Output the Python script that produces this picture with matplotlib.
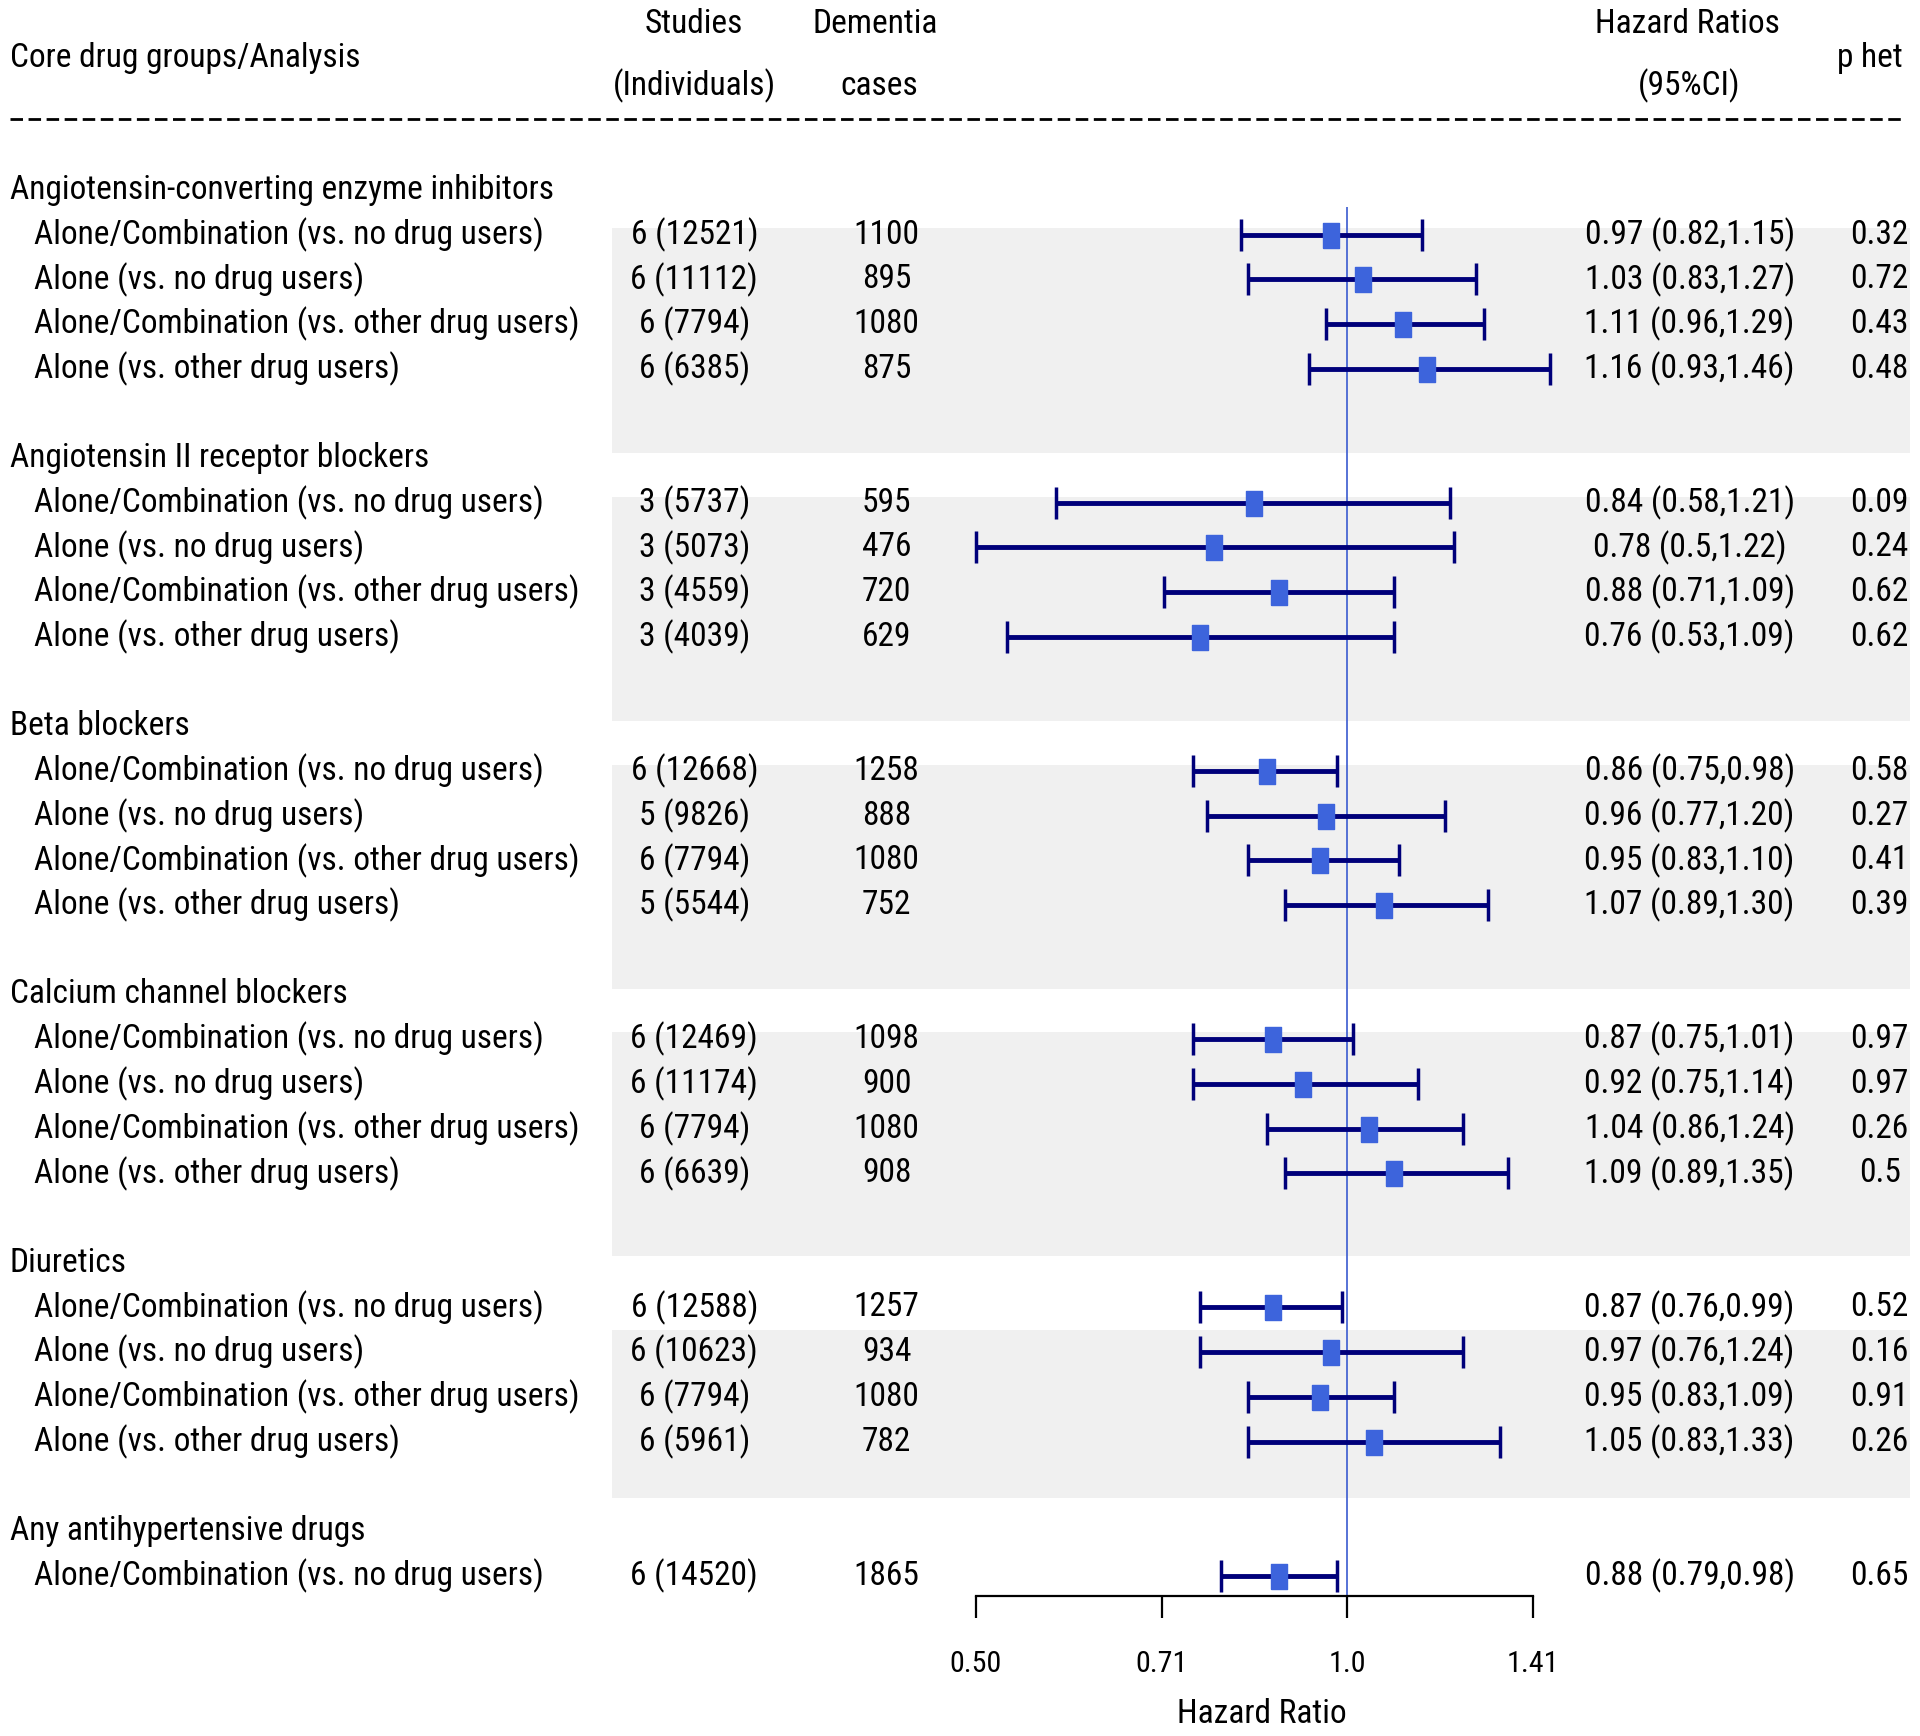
import matplotlib
matplotlib.use("Agg")
import matplotlib.pyplot as plt
import matplotlib.font_manager as fm
import numpy as np

groups = [
    "Angiotensin-converting enzyme inhibitors",
    "Angiotensin II receptor blockers",
    "Beta blockers",
    "Calcium channel blockers",
    "Diuretics",
    "Any antihypertensive drugs",
]
analyses = [
    "Alone/Combination (vs. no drug users)",
    "Alone (vs. no drug users)",
    "Alone/Combination (vs. other drug users)",
    "Alone (vs. other drug users)",
]
n_analyses = [4, 4, 4, 4, 4, 1]

studies = [
    "6 (12521)", "6 (11112)", "6 (7794)", "6 (6385)",
    "3 (5737)", "3 (5073)", "3 (4559)", "3 (4039)",
    "6 (12668)", "5 (9826)", "6 (7794)", "5 (5544)",
    "6 (12469)", "6 (11174)", "6 (7794)", "6 (6639)",
    "6 (12588)", "6 (10623)", "6 (7794)", "6 (5961)",
    "6 (14520)",
]
cases = [
    "1100", "895", "1080", "875",
    "595", "476", "720", "629",
    "1258", "888", "1080", "752",
    "1098", "900", "1080", "908",
    "1257", "934", "1080", "782",
    "1865",
]
hr = ["0.97", "1.03", "1.11", "1.16",
      "0.84", "0.78", "0.88", "0.76",
      "0.86", "0.96", "0.95", "1.07",
      "0.87", "0.92", "1.04", "1.09",
      "0.87", "0.97", "0.95", "1.05",
      "0.88"]
lo = ["0.82", "0.83", "0.96", "0.93",
      "0.58", "0.5", "0.71", "0.53",
      "0.75", "0.77", "0.83", "0.89",
      "0.75", "0.75", "0.86", "0.89",
      "0.76", "0.76", "0.83", "0.83",
      "0.79"]
hi = ["1.15", "1.27", "1.29", "1.46",
      "1.21", "1.22", "1.09", "1.09",
      "0.98", "1.20", "1.10", "1.30",
      "1.01", "1.14", "1.24", "1.35",
      "0.99", "1.24", "1.09", "1.33",
      "0.98"]
p_het = ["0.32", "0.72", "0.43", "0.48",
         "0.09", "0.24", "0.62", "0.62",
         "0.58", "0.27", "0.41", "0.39",
         "0.97", "0.97", "0.26", "0.5",
         "0.52", "0.16", "0.91", "0.26",
         "0.65"]

tick_vals = [0.5, 2 ** -0.5, 1.0, 2 ** 0.5]
tick_labels = ["0.50", "0.71", "1.0", "1.41"]

# shaded bands (row units, top -> bottom)
bands = [(0.86, 5.88), (6.86, 11.88), (12.86, 17.87), (18.84, 23.86), (25.5, 29.27)]


def pick_font():
    # the original uses a narrow Arial-like face; take a narrow one if there is one
    fonts = fm.fontManager.ttflist
    for want in ["Liberation Sans Narrow", "Arial Narrow", "Roboto Condensed",
                 "Open Sans Condensed", "Noto Sans Condensed"]:
        for f in fonts:
            if f.name == want and f.style == "normal" and f.weight in (400, "normal", "regular"):
                return f.name, f.stretch
    for f in fonts:
        path = f.fname.lower()
        if ("condensed" in path or "narrow" in path) and "sans" in path \
                and not any(s in path for s in ["mono", "serif", "bold", "italic", "oblique",
                                                 "extra", "ultra", "light", "thin", "black",
                                                 "medium", "semibold"]):
            return f.name, f.stretch
    return "Liberation Sans", "normal"


fam, stretch = pick_font()
plt.rcParams["font.family"] = [fam, "DejaVu Sans"]
plt.rcParams["font.stretch"] = stretch

navy = "#00007a"
box = "#3d64dc"

fig = plt.figure(figsize=(19.2, 17.36), dpi=100)

# size the text so the widest label matches the original width (~544 px)
renderer = fig.canvas.get_renderer()
probe = fig.text(0, 0, "Alone/Combination (vs. other drug users)", fontsize=20)
w = probe.get_window_extent(renderer).width
probe.remove()
FS = min(25.5, 20 * 544 / w)

ax = fig.add_axes([0, 0.0808, 1, 0.9192])
ax.set_xscale("log", base=2)
ax.set_xlim(2 ** -3.627, 2 ** 1.541)
ax.set_ylim(31.45, -4.247)

for top, bot in bands:
    ax.axhspan(top, bot, xmin=0.319, xmax=0.995, color="#f0f0f0", lw=0, zorder=0)

tr = ax.get_yaxis_transform()

# header
ax.text(0.0052, -2.96, "Core drug groups/Analysis", transform=tr, fontsize=FS, va="center")
ax.text(0.3616, -3.70, "Studies", transform=tr, fontsize=FS, va="center", ha="center")
ax.text(0.3616, -2.33, "(Individuals)", transform=tr, fontsize=FS, va="center", ha="center")
ax.text(0.456, -3.70, "Dementia", transform=tr, fontsize=FS, va="center", ha="center")
ax.text(0.458, -2.33, "cases", transform=tr, fontsize=FS, va="center", ha="center")
ax.text(0.879, -3.70, "Hazard Ratios", transform=tr, fontsize=FS, va="center", ha="center")
ax.text(0.880, -2.33, "(95%CI)", transform=tr, fontsize=FS, va="center", ha="center")
ax.text(0.974, -2.96, "p het", transform=tr, fontsize=FS, va="center", ha="center")
ax.plot([0.0052, 0.992], [-1.59, -1.59], transform=tr, color="black", lw=2,
        dashes=(4.5, 2), clip_on=False)

ypos = []
k = 0
for g, name in enumerate(groups):
    yh = 6 * g
    ax.text(0.0052, yh, name, transform=tr, fontsize=FS, va="center")
    for j in range(n_analyses[g]):
        y = yh + 1 + j
        ypos.append(y)
        ax.text(0.0177, y, analyses[j], transform=tr, fontsize=FS, va="center")
        ax.text(0.3616, y, studies[k], transform=tr, fontsize=FS, va="center", ha="center")
        ax.text(0.4618, y, cases[k], transform=tr, fontsize=FS, va="center", ha="center")
        ax.text(0.880, y, f"{hr[k]} ({lo[k]},{hi[k]})", transform=tr, fontsize=FS,
                va="center", ha="center")
        ax.text(0.979, y, p_het[k], transform=tr, fontsize=FS, va="center", ha="center")
        k += 1

ypos = np.array(ypos)
hr_v = np.array([float(v) for v in hr])
lo_v = np.array([float(v) for v in lo])
hi_v = np.array([float(v) for v in hi])

ax.vlines(1.0, 0.38, 31.45, color="#3a5ad0", lw=1.2, zorder=2)
ax.errorbar(hr_v, ypos, xerr=[hr_v - lo_v, hi_v - hr_v], fmt="none", ecolor=navy,
            elinewidth=3.5, capsize=11.5, capthick=2.5, zorder=3)
rect = [(-0.32, -0.5), (0.32, -0.5), (0.32, 0.5), (-0.32, 0.5), (-0.32, -0.5)]
ax.plot(hr_v, ypos, ls="none", marker=rect, markersize=18, color=box, mec=box, zorder=4)

for side in ["left", "top", "right"]:
    ax.spines[side].set_visible(False)
ax.spines["bottom"].set_bounds(tick_vals[0], tick_vals[-1])
ax.spines["bottom"].set_linewidth(1.6)
ax.set_yticks([])
ax.set_xticks(tick_vals)
ax.set_xticklabels(tick_labels)
ax.xaxis.set_minor_locator(matplotlib.ticker.NullLocator())
ax.tick_params(axis="x", length=16, width=1.6, labelsize=FS * 0.9, pad=23)
ax.set_xlabel("Hazard Ratio", fontsize=FS)
ax.xaxis.set_label_coords(0.657, -0.064)

fig.savefig("out.png", dpi=100)
